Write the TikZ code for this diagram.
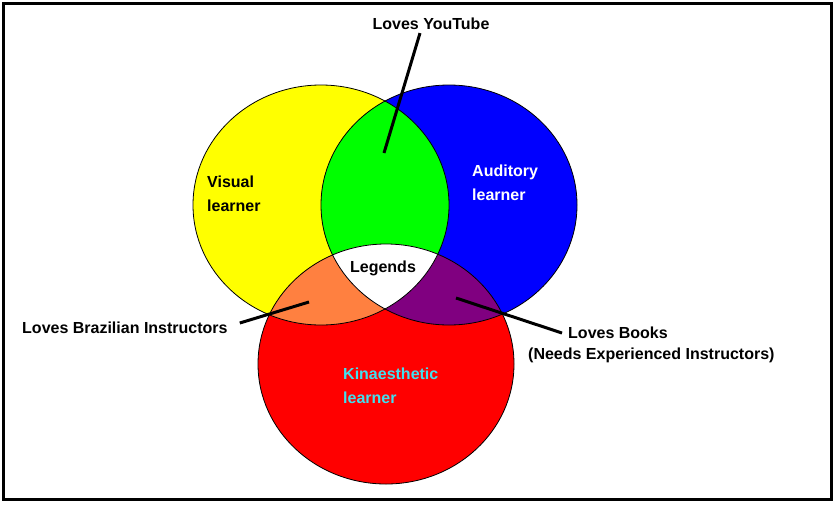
\documentclass[tikz,border=0pt]{standalone}
\usepackage{fontspec}
\setmainfont{Liberation Sans}
\usetikzlibrary{positioning, calc}
\definecolor{VisYellow}{HTML}{FFFF00}
\definecolor{AudBlue}{HTML}{0000FF}
\definecolor{KinRed}{HTML}{FF0000}
\definecolor{TubeGreen}{HTML}{00FF00}
\definecolor{BrazOrange}{HTML}{FF8040}
\definecolor{BookPurple}{HTML}{800080}
\definecolor{KinCyan}{HTML}{40E0F0}
\tikzset{
  lbl/.style={font=\bfseries\fontsize{16}{24}\selectfont, inner sep=0pt, anchor=west, align=left},
  pointer/.style={line width=3pt}
}
\def\yellowdisc{(321,205) ellipse [x radius=128pt, y radius=120pt]}
\def\bluedisc{(449,205) ellipse [x radius=128pt, y radius=120pt]}
\def\reddisc{(386,364) ellipse [x radius=128pt, y radius=120pt]}

\begin{document}
\begin{tikzpicture}[x=1pt, y=-1pt]
    \useasboundingbox (0,0) rectangle (837,504);
    \draw[line width=3pt] (3.5,3.5) rectangle (831.5,499);
    % the three learners
    \fill[VisYellow] \yellowdisc;
    \fill[AudBlue] \bluedisc;
    \fill[KinRed] \reddisc;
    % the overlaps
    \begin{scope}
        \clip \yellowdisc;
        \fill[TubeGreen] \bluedisc;
        \fill[BrazOrange] \reddisc;
    \end{scope}
    \begin{scope}
        \clip \bluedisc;
        \fill[BookPurple] \reddisc;
        \clip \yellowdisc;
        \fill[white] \reddisc;
    \end{scope}
    \draw[line width=0.8pt] \yellowdisc;
    \draw[line width=0.8pt] \bluedisc;
    \draw[line width=0.8pt] \reddisc;
    % labels
    \node[lbl] (visual) at (207,194) {Visual\\learner};
    \node[lbl, text=white] (auditory) at (472,183) {Auditory\\learner};
    \node[lbl, text=KinCyan] (kinaes) at (343,386) {Kinaesthetic\\learner};
    \node[lbl, anchor=center] (legends) at (383,268) {Legends};
    \node[lbl, anchor=center] (youtube) at (431,24) {Loves YouTube};
    \node[lbl] (brazil) at (22,328) {Loves Brazilian Instructors};
    \node[lbl] (books) at (568,333) {Loves Books};
    \node[lbl] (needs) at (528,355) {(Needs Experienced Instructors)};
    % pointers
    \coordinate (tube tip) at (384,153);
    \coordinate (orange tip) at (309,302);
    \coordinate (purple tip) at (456,298);
    \draw[pointer] ([shift={(-11pt,-3pt)}]youtube.south) -- (tube tip);
    \draw[pointer] ([shift={(12pt,5pt)}]brazil.east) -- (orange tip);
    \draw[pointer] (purple tip) -- ([xshift=-6pt]books.west);
\end{tikzpicture}
\end{document}
